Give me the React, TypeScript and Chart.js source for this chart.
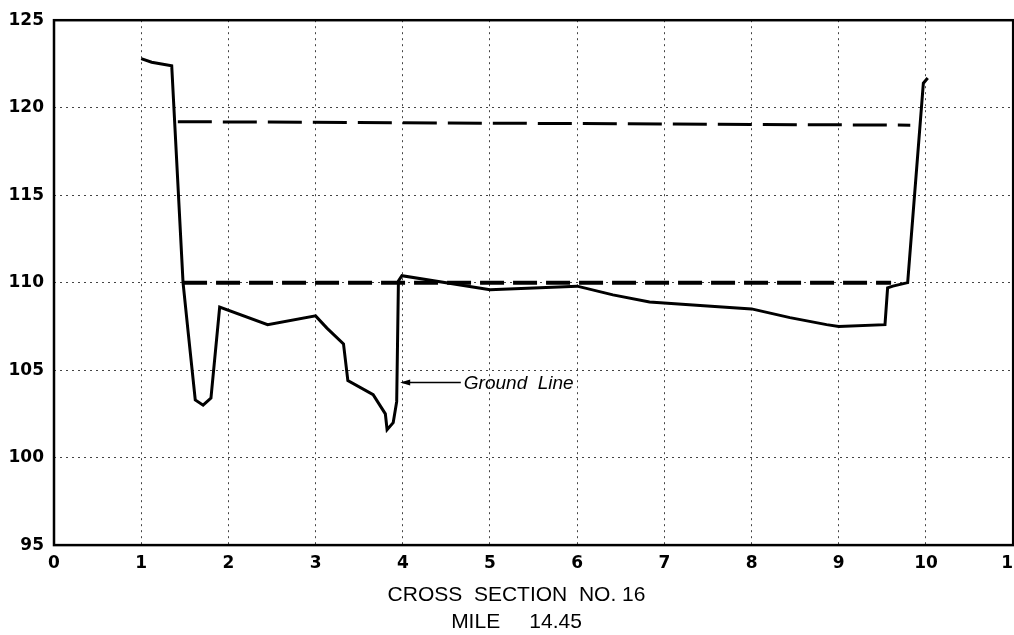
import React, { useEffect, useRef } from "react";
import { Chart, registerables } from "chart.js";

Chart.register(...registerables);

const groundX = [1.0, 1.12, 1.35, 1.48, 1.54, 1.62, 1.71, 1.8, 1.9, 2.45, 3.0, 3.13, 3.32, 3.37, 3.66, 3.8, 3.82, 3.89, 3.93, 3.95, 3.99, 5.0, 6.0, 6.41, 6.83, 7.41, 8.0, 8.44, 8.86, 9.0, 9.53, 9.56, 9.62, 9.79, 9.97, 10.02];
const groundY = [122.8, 122.6, 122.4, 110.0, 107.1, 103.3, 103.0, 103.4, 108.6, 107.6, 108.1, 107.4, 106.5, 104.4, 103.6, 102.5, 101.6, 102.0, 103.2, 110.1, 110.4, 109.6, 109.8, 109.3, 108.9, 108.7, 108.5, 108.0, 107.6, 107.5, 107.6, 109.7, 109.8, 110.0, 121.4, 121.7];

const upperWaterX = [1.42, 9.82];
const upperWaterY = [119.2, 119.0];
const lowerWaterX = [1.48, 9.6];
const lowerWaterY = [110.0, 110.0];

const xTicks = [0, 1, 2, 3, 4, 5, 6, 7, 8, 9, 10, 11];
const yTicks = [95, 100, 105, 110, 115, 120, 125];
const titleLines = ["CROSS  SECTION  NO. 16", "MILE     14.45"];

const labelText = "Ground  Line";
const labelPoint = [3.97, 104.3];
const labelTextX = 4.7;

const toPts = (xs: number[], ys: number[]) => xs.map((x, i) => ({ x, y: ys[i] }));

const framePlugin = {
  id: "frameAndLabel",
  afterDraw(chart: any) {
    const { ctx, chartArea, scales } = chart;
    ctx.save();
    ctx.strokeStyle = "#000";
    ctx.lineWidth = 2.5;
    ctx.strokeRect(chartArea.left, chartArea.top, chartArea.right - chartArea.left, chartArea.bottom - chartArea.top);
    const tipX = scales.x.getPixelForValue(labelPoint[0]);
    const tipY = scales.y.getPixelForValue(labelPoint[1]);
    const textX = scales.x.getPixelForValue(labelTextX);
    ctx.lineWidth = 1.5;
    ctx.beginPath();
    ctx.moveTo(tipX + 2, tipY);
    ctx.lineTo(textX - 3, tipY);
    ctx.stroke();
    ctx.fillStyle = "#000";
    ctx.beginPath();
    ctx.moveTo(tipX, tipY);
    ctx.lineTo(tipX + 10, tipY - 3);
    ctx.lineTo(tipX + 10, tipY + 3);
    ctx.closePath();
    ctx.fill();
    ctx.font = "italic 19px 'Liberation Sans', sans-serif";
    ctx.textBaseline = "middle";
    ctx.textAlign = "left";
    ctx.fillText(labelText, textX, tipY + 1);
    ctx.restore();
  },
};

export default function App() {
  const ref = useRef<HTMLCanvasElement | null>(null);
  useEffect(() => {
    if (!ref.current) return;
    const font = { family: "'DejaVu Sans', sans-serif", size: 17, weight: "bold" as const };
    const chart = new Chart(ref.current, {
      type: "line",
      data: {
        datasets: [
          {
            data: toPts(groundX, groundY),
            borderColor: "#000",
            borderWidth: 3,
            pointRadius: 0,
            tension: 0,
          },
          {
            data: toPts(upperWaterX, upperWaterY),
            borderColor: "#000",
            borderWidth: 3,
            borderDash: [34, 11],
            pointRadius: 0,
          },
          {
            data: toPts(lowerWaterX, lowerWaterY),
            borderColor: "#000",
            borderWidth: 4,
            borderDash: [24, 9],
            pointRadius: 0,
          },
        ],
      },
      options: {
        animation: false,
        responsive: false,
        layout: { padding: { top: 8, right: 0, left: 0, bottom: 0 } },
        plugins: {
          legend: { display: false },
          tooltip: { enabled: false },
          title: {
            display: true,
            position: "bottom",
            text: titleLines,
            color: "#000",
            font: { family: "'Liberation Sans', sans-serif", size: 21, weight: "normal", lineHeight: 1.25 },
            padding: { top: 1, bottom: 0 },
          },
        },
        scales: {
          x: {
            type: "linear",
            min: 0,
            max: 11,
            afterBuildTicks: (s: any) => {
              s.ticks = xTicks.map((v) => ({ value: v }));
            },
            ticks: { color: "#000", font, padding: 8, maxRotation: 0 },
            grid: { color: "#444", lineWidth: 1, drawTicks: false },
            border: { display: false, dash: [2, 4] },
          },
          y: {
            type: "linear",
            min: 95,
            max: 125,
            afterBuildTicks: (s: any) => {
              s.ticks = yTicks.map((v) => ({ value: v }));
            },
            afterFit: (s: any) => {
              s.width = 54;
            },
            ticks: { color: "#000", font, padding: 10 },
            grid: { color: "#444", lineWidth: 1, drawTicks: false },
            border: { display: false, dash: [2, 4] },
          },
        },
      },
      plugins: [framePlugin],
    });
    return () => chart.destroy();
  }, []);
  return (
    <div style={{ position: "fixed", left: 0, top: 0, width: 1014, height: 635, overflow: "hidden", background: "#fff" }}>
      <canvas ref={ref} width={1033} height={635} style={{ display: "block" }} />
    </div>
  );
}
